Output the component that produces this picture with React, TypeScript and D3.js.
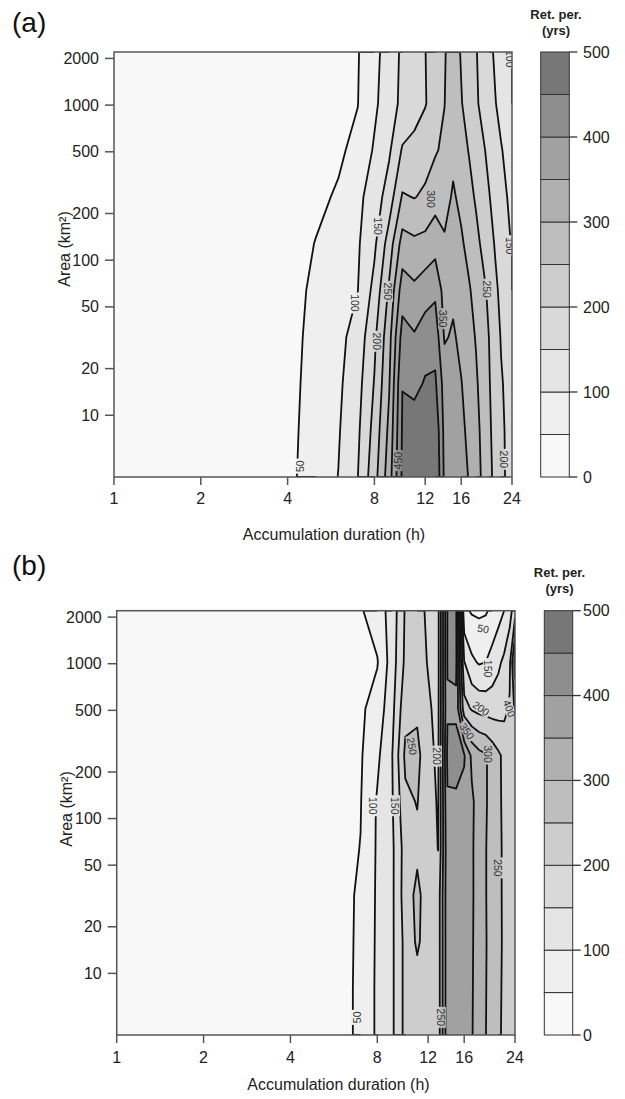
import React from "react";
import * as d3 from "d3";

// ---------- data ----------
const durations = [1, 2, 3, 4, 5, 6, 7, 8, 9, 10, 11, 12, 13, 14, 15, 16, 17, 18, 19, 20, 21, 22, 23, 24];
const areas = [4, 8, 16, 32, 64, 128, 256, 512, 1024, 2200];
const levels = [0, 50, 100, 150, 200, 250, 300, 350, 400, 450];
const lineLevels = [50, 100, 150, 200, 250, 300, 350, 400, 450];
const bandColors = ["#f8f8f8", "#efefef", "#e5e5e5", "#d9d9d9", "#cdcdcd", "#bebebe", "#b0b0b0", "#a1a1a1", "#8e8e8e", "#777777"];
const legendTicks = [0, 100, 200, 300, 400, 500];
const xTicks = [1, 2, 4, 8, 12, 16, 24];
const yTicks = [10, 20, 50, 100, 200, 500, 1000, 2000];

// return period (yrs), rows = areas (ascending), columns = durations
const gridA = [
  [8, 24, 33, 40, 70, 101, 149, 231, 327, 459, 490, 495, 500, 390, 380, 367, 348, 320, 292, 263, 236, 212, 195, 185],
  [8, 23, 32, 39, 67, 96, 141, 217, 312, 455, 478, 490, 490, 385, 377, 363, 337, 314, 288, 258, 232, 208, 195, 187],
  [8, 22, 31, 38, 64, 91, 132, 203, 296, 449, 435, 455, 458, 378, 372, 352, 329, 307, 280, 253, 228, 204, 192, 182],
  [7, 21, 30, 37, 61, 86, 120, 190, 283, 420, 405, 425, 430, 345, 356, 338, 317, 297, 272, 249, 221, 197, 184, 172],
  [7, 20, 29, 36, 57, 80, 99, 165, 258, 375, 360, 378, 390, 330, 340, 322, 305, 285, 263, 239, 208, 190, 177, 165],
  [6, 17, 26, 33, 51, 74, 94, 141, 223, 320, 310, 315, 330, 305, 318, 306, 287, 264, 240, 217, 196, 178, 160, 147],
  [5, 15, 22, 28, 42, 54, 88, 123, 174, 255, 248, 258, 280, 285, 305, 290, 266, 244, 223, 202, 184, 167, 151, 140],
  [5, 14, 20, 26, 37, 44, 60, 106, 143, 205, 215, 230, 245, 260, 290, 268, 248, 227, 207, 188, 170, 153, 140, 128],
  [5, 15, 21, 25, 33, 40, 49, 90, 131, 160, 179, 197, 223, 249, 285, 253, 229, 207, 187, 169, 152, 136, 120, 105],
  [5, 13, 18, 22, 29, 35, 47, 84, 126, 158, 180, 199, 224, 246, 275, 246, 224, 203, 182, 162, 143, 126, 110, 97],
];

const gridB = [
  [5, 12, 20, 28, 35, 38, 58, 109, 141, 215, 230, 225, 222, 385, 385, 375, 353, 327, 301, 278, 256, 243, 234, 225],
  [5, 12, 20, 28, 35, 38, 58, 109, 141, 215, 230, 225, 222, 385, 385, 376, 354, 328, 302, 279, 257, 244, 235, 226],
  [5, 12, 20, 28, 35, 38, 57, 108, 141, 215, 258, 225, 222, 385, 386, 377, 355, 329, 303, 280, 258, 245, 236, 227],
  [5, 12, 19, 27, 34, 38, 56, 107, 140, 225, 262, 225, 222, 386, 386, 378, 356, 330, 302, 279, 257, 245, 236, 228],
  [5, 12, 19, 27, 33, 36, 51, 106, 140, 222, 240, 222, 199, 386, 385, 377, 356, 329, 302, 279, 257, 245, 237, 230],
  [5, 12, 18, 26, 32, 36, 48, 105, 145, 240, 252, 218, 196, 395, 392, 385, 358, 330, 305, 280, 258, 242, 233, 225],
  [5, 12, 18, 25, 31, 35, 45, 90, 148, 260, 265, 212, 192, 410, 420, 405, 340, 315, 305, 280, 258, 240, 215, 205],
  [5, 11, 17, 23, 29, 34, 42, 70, 135, 235, 240, 205, 190, 395, 390, 220, 195, 185, 180, 178, 180, 185, 205, 260],
  [5, 10, 16, 22, 28, 33, 40, 47, 125, 210, 215, 198, 188, 403, 410, 152, 110, 95, 100, 120, 140, 160, 190, 320],
  [5, 10, 16, 22, 28, 35, 45, 75, 120, 205, 210, 195, 188, 402, 410, 60, 45, 42, 45, 60, 80, 100, 130, 180],
];

// contour labels: [text, duration, area, angle]
const labelsA: [string, number, number, number][] = [
  ["50", 4.42, 4.7, -90],
  ["100", 6.85, 53, 90],
  ["150", 8.23, 166, 90],
  ["200", 8.17, 30, 90],
  ["250", 8.92, 63, 90],
  ["300", 12.5, 248, 90],
  ["350", 13.84, 42, 90],
  ["450", 9.66, 5.1, -90],
  ["250", 19.66, 65, 90],
  ["200", 22.5, 5.2, 90],
  ["150", 23.6, 124, 90],
  ["100", 23.5, 1990, 90],
];
const labelsB: [string, number, number, number][] = [
  ["50", 6.8, 5.2, -90],
  ["100", 7.73, 121, 90],
  ["150", 9.21, 121, 90],
  ["250", 10.55, 293, 80],
  ["200", 12.88, 253, 90],
  ["250", 13.3, 5.2, 90],
  ["250", 20.96, 48, 90],
  ["300", 19.35, 261, 90],
  ["350", 16.36, 366, 55],
  ["200", 18.3, 514, 35],
  ["150", 19.35, 930, 90],
  ["50", 18.6, 1681, 10],
  ["400", 22.9, 514, 70],
];

// ---------- layout ----------
const FONT = "'Liberation Sans', Arial, Helvetica, sans-serif";
const layoutA = { id: "a", letter: "(a)", letterY: 32, x0: 114, x1: 512, y0: 52, y1: 477, cbX0: 540.7, cbX1: 569.3, titleY: 19, xLabelX: 334, xLabelY: 540, yLabelX: 70, yLabelY: 249, tickLabelY: 503.5 };
const layoutB = { id: "b", letter: "(b)", letterY: 574.5, x0: 116.7, x1: 515, y0: 610.7, y1: 1035, cbX0: 544.3, cbX1: 572.7, titleY: 577, xLabelX: 338.5, xLabelY: 1090, yLabelX: 72, yLabelY: 809, tickLabelY: 1063 };

function Panel({ grid, labels, L }: { grid: number[][]; labels: [string, number, number, number][]; L: any }) {
  const x = d3.scaleLog().domain([1, 24]).range([L.x0, L.x1]);
  const y = d3.scaleLog().domain([4, 2200]).range([L.y1, L.y0]);
  const cy = d3.scaleLinear().domain([0, 500]).range([L.y1, L.y0]);
  const nx = durations.length;
  const ny = areas.length;
  const xs = durations.map((d) => x(d));
  const ys = areas.map((a) => y(a));
  const lerp = (arr: number[], g: number, n: number) => {
    const u = Math.max(0, Math.min(n - 1, g - 0.5));
    const i = Math.min(Math.floor(u), n - 2);
    return arr[i] + (u - i) * (arr[i + 1] - arr[i]);
  };
  const P = (p: number[]) => [lerp(xs, p[0], nx), lerp(ys, p[1], ny)];
  const values = grid.flat();
  const fills = d3.contours().size([nx, ny]).thresholds(levels)(values);
  const lines = d3.contours().size([nx, ny]).thresholds(lineLevels)(values);
  const f = (v: number) => v.toFixed(2);
  const fillPath = (mp: any) =>
    mp.coordinates
      .map((poly: number[][][]) =>
        poly.map((ring) => "M" + ring.map((pt) => { const q = P(pt); return f(q[0]) + "," + f(q[1]); }).join("L") + "Z").join("")
      )
      .join("");
  const onEdge = (a: number[], b: number[]) =>
    (a[0] === 0 && b[0] === 0) || (a[0] === nx && b[0] === nx) || (a[1] === 0 && b[1] === 0) || (a[1] === ny && b[1] === ny);
  const linePath = (mp: any) => {
    let s = "";
    for (const poly of mp.coordinates)
      for (const ring of poly) {
        let pen = false;
        for (let i = 0; i < ring.length - 1; i++) {
          const a = ring[i], b = ring[i + 1];
          if (onEdge(a, b)) { pen = false; continue; }
          const pa = P(a), pb = P(b);
          if (!pen) { s += `M${f(pa[0])},${f(pa[1])}`; pen = true; }
          s += `L${f(pb[0])},${f(pb[1])}`;
        }
      }
    return s;
  };
  const clipId = `clip-${L.id}`;
  const maskId = `mask-${L.id}`;
  const cbMid = (L.cbX0 + L.cbX1) / 2 + 1;
  return (
    <g fontFamily={FONT}>
      <text x={12} y={L.letterY} fontSize={28} fill="#111">{L.letter}</text>
      <defs>
        <clipPath id={clipId}>
          <rect x={L.x0} y={L.y0} width={L.x1 - L.x0} height={L.y1 - L.y0} />
        </clipPath>
        <mask id={maskId} maskUnits="userSpaceOnUse" x={0} y={0} width={625} height={1099}>
          <rect x={0} y={0} width={625} height={1099} fill="white" />
          {labels.map(([t, d, a, ang], i) => {
            const w = t.length * 6 + 3;
            return (
              <rect key={i} x={-w / 2} y={-5} width={w} height={10} fill="black"
                transform={`translate(${x(d)},${y(a)}) rotate(${ang})`} />
            );
          })}
        </mask>
      </defs>
      <g clipPath={`url(#${clipId})`}>
        {fills.map((c, k) => (
          <path key={k} d={fillPath(c)} fill={bandColors[k]} fillRule="evenodd" />
        ))}
        <g mask={`url(#${maskId})`}>
          {lines.map((c, k) => (
            <path key={k} d={linePath(c)} fill="none" stroke="#111" strokeWidth={1.8} strokeLinejoin="round" />
          ))}
        </g>
        {labels.map(([t, d, a, ang], i) => (
          <text key={i} transform={`translate(${x(d)},${y(a)}) rotate(${ang})`} textAnchor="middle" dy="0.35em"
            fontSize={10.5} fill="#333">{t}</text>
        ))}
      </g>
      <rect x={L.x0} y={L.y0} width={L.x1 - L.x0} height={L.y1 - L.y0} fill="none" stroke="#555" strokeWidth={1.5} />
      {yTicks.map((t) => (
        <g key={t}>
          <line x1={L.x0 - 9} x2={L.x0} y1={y(t)} y2={y(t)} stroke="#555" strokeWidth={1.5} />
          <text x={L.x0 - 15} y={y(t)} dy="0.35em" textAnchor="end" fontSize={16} fill="#222">{t}</text>
        </g>
      ))}
      {xTicks.map((t) => (
        <g key={t}>
          <line x1={x(t)} x2={x(t)} y1={L.y1} y2={L.y1 + 8} stroke="#555" strokeWidth={1.5} />
          <text x={x(t)} y={L.tickLabelY} textAnchor="middle" fontSize={16} fill="#222">{t}</text>
        </g>
      ))}
      <text x={L.xLabelX} y={L.xLabelY} textAnchor="middle" fontSize={16} fill="#222">Accumulation duration (h)</text>
      <text transform={`translate(${L.yLabelX},${L.yLabelY}) rotate(-90)`} textAnchor="middle" fontSize={16} fill="#222">Area (km²)</text>
      {/* colour bar */}
      <text x={cbMid} y={L.titleY} textAnchor="middle" fontSize={13} fontWeight="bold" fill="#222">Ret. per.</text>
      <text x={cbMid} y={L.titleY + 15.5} textAnchor="middle" fontSize={13} fontWeight="bold" fill="#222">(yrs)</text>
      {levels.map((lv, k) => (
        <rect key={k} x={L.cbX0} y={cy(lv + 50)} width={L.cbX1 - L.cbX0} height={cy(lv) - cy(lv + 50)}
          fill={bandColors[k]} stroke="#333" strokeWidth={1} />
      ))}
      {legendTicks.map((t) => (
        <g key={t}>
          <line x1={L.cbX1} x2={L.cbX1 + 8} y1={cy(t)} y2={cy(t)} stroke="#333" strokeWidth={1.3} />
          <text x={583} y={cy(t)} dy="0.35em" fontSize={16} fill="#222">{t}</text>
        </g>
      ))}
    </g>
  );
}

export default function App() {
  return (
    <svg width={625} height={1099} style={{ position: "absolute", left: 0, top: 0, background: "#fff" }}>
      <rect x={0} y={0} width={625} height={1099} fill="#fff" />
      <Panel grid={gridA} labels={labelsA} L={layoutA} />
      <Panel grid={gridB} labels={labelsB} L={layoutB} />
    </svg>
  );
}
